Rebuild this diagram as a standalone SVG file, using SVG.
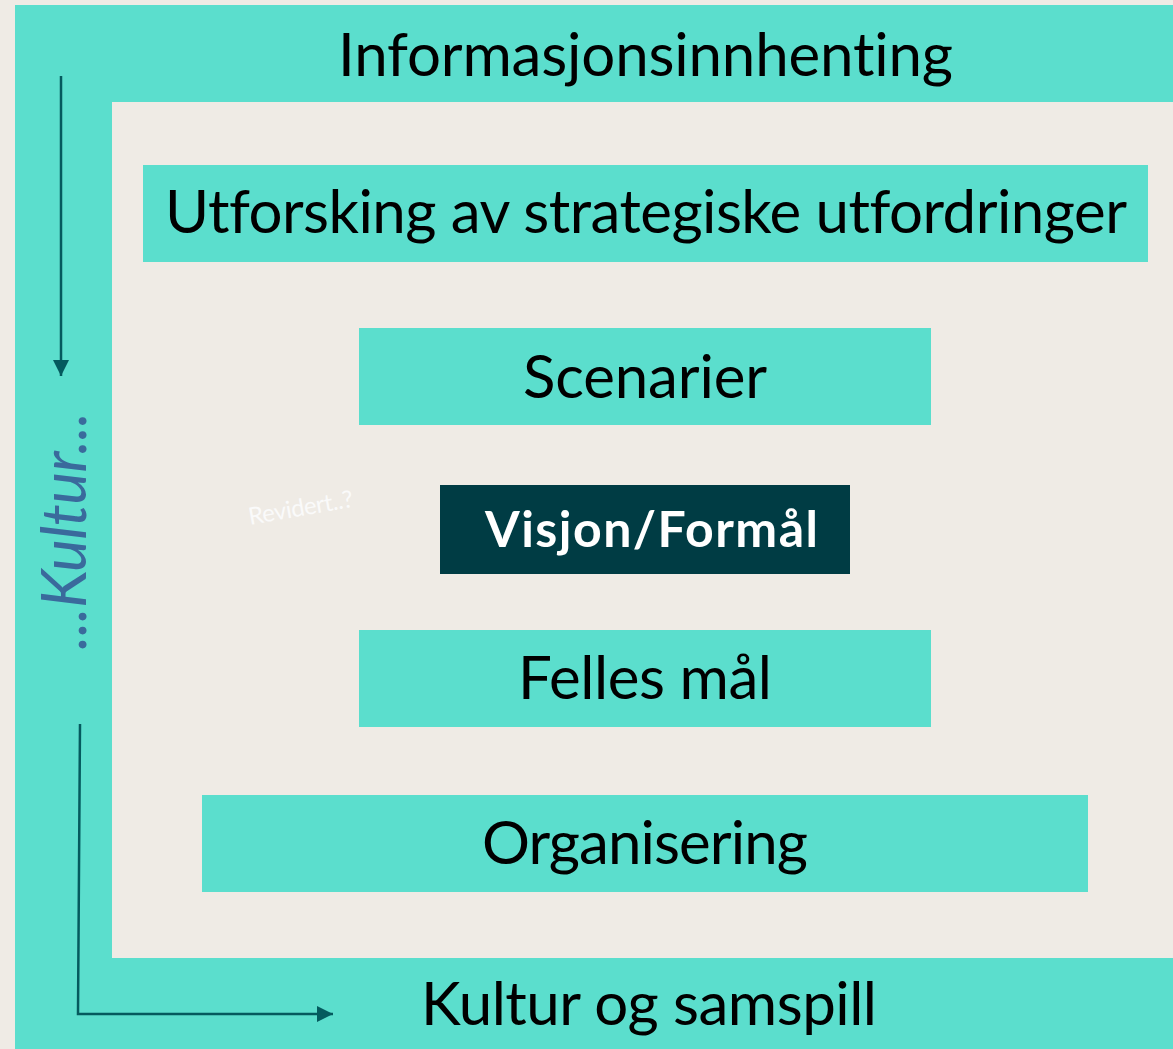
<svg xmlns="http://www.w3.org/2000/svg" width="1173" height="1049" viewBox="0 0 1173 1049">
<style>
text{font-variant-ligatures:none;font-feature-settings:"liga" 0,"clig" 0}
.teal{fill:#5BDECD}
.lbl{font-family:Lato,"Liberation Sans","DejaVu Sans",sans-serif;font-size:60px;fill:#000}
.conn{stroke:#045A5E;stroke-width:2.5;fill:none}
</style>
<defs>
<marker id="ahb" markerWidth="16" markerHeight="16" refX="16" refY="8" orient="auto" markerUnits="userSpaceOnUse" viewBox="0 0 16 16">
<path d="M0,0 L16,8 L0,16 Z" fill="#045A5E"/>
</marker>
</defs>
<rect x="0" y="0" width="1173" height="1049" fill="#EFEBE5"/>
<g id="frame">
<rect class="teal" x="15" y="5" width="1158" height="1044"/>
<rect x="112" y="102" width="1061" height="856" fill="#EFEBE5"/>
<text class="lbl" x="338" y="76" textLength="615">Informasjonsinnhenting</text>
<text class="lbl" x="421" y="1025" textLength="456">Kultur og samspill</text>
<text transform="translate(86,650) rotate(-90)" x="0" y="0" textLength="238" style="font-family:Lato,'Liberation Sans',sans-serif;font-size:62px;font-style:italic;fill:#3A6A9C">...Kultur...</text>
</g>
<g id="utforsking">
<rect class="teal" x="143" y="165" width="1005" height="97"/>
<text class="lbl" x="165" y="233" textLength="962">Utforsking av strategiske utfordringer</text>
</g>
<g id="scenarier">
<rect class="teal" x="359" y="328" width="572" height="97"/>
<text class="lbl" x="523" y="398" textLength="244">Scenarier</text>
</g>
<g id="visjon">
<rect x="440" y="485" width="410" height="89" fill="#003C44"/>
<text class="lbl" x="485" y="547" textLength="333" style="font-weight:bold;font-size:50px;fill:#FFFFFF">Visjon/Formål</text>
</g>
<g id="revidert">
<text transform="translate(250,525) rotate(-10)" x="0" y="0" textLength="106" style="font-family:Lato,'Liberation Sans',sans-serif;font-size:24px;fill:#FAFAFA">Revidert..?</text>
</g>
<g id="felles">
<rect class="teal" x="359" y="630" width="572" height="97"/>
<text class="lbl" x="518" y="699" textLength="254">Felles mål</text>
</g>
<g id="organisering">
<rect class="teal" x="202" y="795" width="886" height="97"/>
<text class="lbl" x="482" y="864" textLength="326">Organisering</text>
</g>
<g id="connectors">
<line class="conn" x1="61" y1="76" x2="61" y2="376" marker-end="url(#ahb)"/>
<polyline class="conn" points="80,724 78,1014 333,1014" marker-end="url(#ahb)"/>
</g>
</svg>
